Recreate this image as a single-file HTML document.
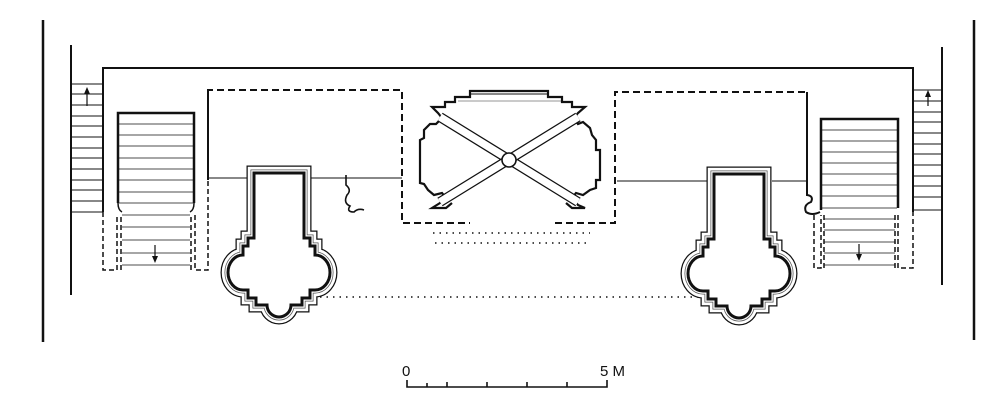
<!DOCTYPE html>
<html><head><meta charset="utf-8"><style>
html,body{margin:0;padding:0;background:#fff;}
svg{display:block;}
</style></head><body>
<svg width="1000" height="406" viewBox="0 0 1000 406" xmlns="http://www.w3.org/2000/svg">
<defs>
<path id="tw" d="M-25,173 L25,173 L25,238 L31,238 L31,246 L36,246 L36,255 A15,17.5 0 0 1 36,290 L31,290 L31,298 L23,298 L23,305 L12,305 A12,12 0 0 1 -12,305 L-23,305 L-23,298 L-31,298 L-31,290 L-36,290 A15,17.5 0 0 1 -36,255 L-36,246 L-31,246 L-31,238 L-25,238 Z"/>
</defs>
<rect width="1000" height="406" fill="#fff"/>
<g stroke="#111" fill="none" stroke-linecap="butt">
<line x1="43" y1="20" x2="43" y2="342" stroke-width="2.5"/>
<line x1="974" y1="20" x2="974" y2="340" stroke-width="2.5"/>
<line x1="71" y1="45" x2="71" y2="295" stroke-width="2"/>
<line x1="942" y1="47" x2="942" y2="285" stroke-width="2"/>
<polyline points="103,212 103,68 913,68 913,212" stroke-width="2"/>
<g stroke-width="1">
<line x1="71" y1="84" x2="103" y2="84"/><line x1="71" y1="94" x2="103" y2="94"/><line x1="71" y1="105" x2="103" y2="105"/><line x1="71" y1="116" x2="103" y2="116"/><line x1="71" y1="126" x2="103" y2="126"/><line x1="71" y1="137" x2="103" y2="137"/><line x1="71" y1="148" x2="103" y2="148"/><line x1="71" y1="158" x2="103" y2="158"/><line x1="71" y1="169" x2="103" y2="169"/><line x1="71" y1="180" x2="103" y2="180"/><line x1="71" y1="190" x2="103" y2="190"/><line x1="71" y1="201" x2="103" y2="201"/><line x1="71" y1="212" x2="103" y2="212"/>
<line x1="913" y1="90" x2="942" y2="90"/><line x1="913" y1="101" x2="942" y2="101"/><line x1="913" y1="112" x2="942" y2="112"/><line x1="913" y1="122" x2="942" y2="122"/><line x1="913" y1="133" x2="942" y2="133"/><line x1="913" y1="144" x2="942" y2="144"/><line x1="913" y1="154" x2="942" y2="154"/><line x1="913" y1="165" x2="942" y2="165"/><line x1="913" y1="176" x2="942" y2="176"/><line x1="913" y1="186" x2="942" y2="186"/><line x1="913" y1="197" x2="942" y2="197"/><line x1="913" y1="210" x2="942" y2="210"/>
</g>
<line x1="87" y1="106" x2="87" y2="92" stroke-width="1.2"/>
<polygon points="84,94 87,87 90,94" fill="#111" stroke="none"/>
<line x1="928" y1="106" x2="928" y2="94" stroke-width="1.2"/>
<polygon points="925,97 928,90 931,97" fill="#111" stroke="none"/>
<line x1="155" y1="245" x2="155" y2="258" stroke-width="1.2"/>
<polygon points="152,256 155,263 158,256" fill="#111" stroke="none"/>
<line x1="859" y1="244" x2="859" y2="256" stroke-width="1.2"/>
<polygon points="856,254 859,261 862,254" fill="#111" stroke="none"/>
<path d="M118,203 L118,113 L194,113 L194,203" stroke-width="2.5"/>
<path d="M118,203 Q118,210 122,212 M194,203 Q194,210 190,212" stroke-width="1.5"/>
<g stroke-width="0.8">
<line x1="119" y1="124" x2="193" y2="124"/><line x1="119" y1="135" x2="193" y2="135"/><line x1="119" y1="146" x2="193" y2="146"/><line x1="119" y1="158" x2="193" y2="158"/><line x1="119" y1="169" x2="193" y2="169"/><line x1="119" y1="180" x2="193" y2="180"/><line x1="119" y1="192" x2="193" y2="192"/><line x1="119" y1="203" x2="193" y2="203"/>
<line x1="122" y1="215" x2="190" y2="215"/><line x1="122" y1="227" x2="190" y2="227"/><line x1="122" y1="240" x2="190" y2="240"/><line x1="122" y1="253" x2="190" y2="253"/><line x1="122" y1="265" x2="190" y2="265"/>
</g>
<g stroke-dasharray="5,3" stroke-width="1.5">
<polyline points="103,212 103,270 117,270 117,215"/>
<polyline points="121,270 121,215"/>
<polyline points="191,270 191,215"/>
<polyline points="195,215 195,270 208,270 208,180"/>
</g>
<path d="M821,210 L821,119 L898,119 L898,208" stroke-width="2.5"/>
<g stroke-width="0.8">
<line x1="822" y1="130" x2="897" y2="130"/><line x1="822" y1="141" x2="897" y2="141"/><line x1="822" y1="152" x2="897" y2="152"/><line x1="822" y1="163" x2="897" y2="163"/><line x1="822" y1="174" x2="897" y2="174"/><line x1="822" y1="185" x2="897" y2="185"/><line x1="822" y1="196" x2="897" y2="196"/><line x1="822" y1="208" x2="897" y2="208"/>
<line x1="824" y1="219" x2="895" y2="219"/><line x1="824" y1="230" x2="895" y2="230"/><line x1="824" y1="242" x2="895" y2="242"/><line x1="824" y1="253" x2="895" y2="253"/><line x1="824" y1="265" x2="895" y2="265"/>
</g>
<g stroke-dasharray="5,3" stroke-width="1.5">
<polyline points="814,215 814,268 821,268 821,215"/>
<polyline points="824,268 824,215"/>
<polyline points="895,268 895,215"/>
<polyline points="898,215 898,268 913,268 913,212"/>
</g>
<path d="M807,192 L807,195 Q814,196 811,202 Q803,205 806,212 Q812,216 820,212" stroke-width="2"/>
<g stroke-dasharray="7,4" stroke-width="2">
<polyline points="208,180 208,90 402,90 402,223 470,223"/>
<polyline points="555,223 615,223 615,92 807,92"/>
</g>
<line x1="208" y1="90" x2="208" y2="178" stroke-width="2"/>
<line x1="807" y1="92" x2="807" y2="192" stroke-width="2"/>
<g stroke-width="0.9">
<line x1="208" y1="178" x2="250" y2="178"/><line x1="308" y1="178" x2="402" y2="178"/>
<line x1="617" y1="181" x2="707" y2="181"/><line x1="772" y1="181" x2="807" y2="181"/>
</g>
<path d="M346,175 L346,185 Q352,190 347,195 Q343,203 350,206 Q346,212 354,212 Q358,208 364,210" stroke-width="1.6"/>
<g stroke-dasharray="1.5,5" stroke-width="1.5">
<line x1="307" y1="297" x2="700" y2="297"/>
<line x1="433" y1="233" x2="590" y2="233"/>
<line x1="435" y1="243" x2="590" y2="243"/>
</g>
</g>
<g transform="translate(279,0)">
<use href="#tw" stroke="#111" stroke-width="15" fill="none" stroke-linejoin="miter"/>
<use href="#tw" stroke="#fff" stroke-width="12.5" fill="none" stroke-linejoin="miter"/>
<use href="#tw" stroke="#555" stroke-width="7" fill="none" stroke-linejoin="miter"/>
<use href="#tw" stroke="#fff" stroke-width="5.5" fill="none" stroke-linejoin="miter"/>
<use href="#tw" stroke="#111" stroke-width="3" fill="#fff"/>
</g>
<g transform="translate(739,1)">
<use href="#tw" stroke="#111" stroke-width="15" fill="none" stroke-linejoin="miter"/>
<use href="#tw" stroke="#fff" stroke-width="12.5" fill="none" stroke-linejoin="miter"/>
<use href="#tw" stroke="#555" stroke-width="7" fill="none" stroke-linejoin="miter"/>
<use href="#tw" stroke="#fff" stroke-width="5.5" fill="none" stroke-linejoin="miter"/>
<use href="#tw" stroke="#111" stroke-width="3" fill="#fff"/>
</g>
<g stroke="#111" fill="none">
<path d="M566,203 L572,208 L585,208 L578,205 L572,198 L576,193 L583,195 L590,190 L596,188 L596,180 L600,180 L600,150 L596,150 L596,140 L592,135 L590,128 L583,122 L578,124 L574,118 L578,113 L585,107 L572,107 L572,102 L562,102 L562,97 L548,97 L548,91 L470,91 L470,97 L455,97 L455,102 L445,102 L445,107 L432,107 L438,113 L442,118 L436,124 L430,124 L424,130 L424,138 L420,140 L420,183 L424,184 L428,190 L434,195 L442,193 L446,198 L440,203 L432,208 L446,208 L452,203" stroke-width="2.2" stroke-linejoin="miter"/>
<line x1="470" y1="94" x2="548" y2="94" stroke-width="1"/>
<line x1="458" y1="101" x2="562" y2="101" stroke-width="0.8" opacity="0.6"/>
<line x1="440" y1="117" x2="578" y2="202" stroke="#111" stroke-width="10"/>
<line x1="440" y1="117" x2="578" y2="202" stroke="#fff" stroke-width="7.5"/>
<line x1="578" y1="117" x2="440" y2="202" stroke="#111" stroke-width="10"/>
<line x1="578" y1="117" x2="440" y2="202" stroke="#fff" stroke-width="7.5"/>
<circle cx="509" cy="160" r="7" fill="#fff" stroke-width="1.6"/>
</g>
<g stroke="#111" stroke-width="1.6" fill="none">
<polyline points="407,380 407,387 607,387 607,380"/>
<line x1="427" y1="383" x2="427" y2="387"/>
<line x1="447" y1="382" x2="447" y2="387"/>
<line x1="487" y1="382" x2="487" y2="387"/>
<line x1="527" y1="382" x2="527" y2="387"/>
<line x1="567" y1="382" x2="567" y2="387"/>
</g>
<text x="402" y="376" font-family="Liberation Sans, sans-serif" font-size="15" fill="#111">0</text>
<text x="600" y="376" font-family="Liberation Sans, sans-serif" font-size="15" fill="#111">5 M</text>
</svg>
</body></html>
